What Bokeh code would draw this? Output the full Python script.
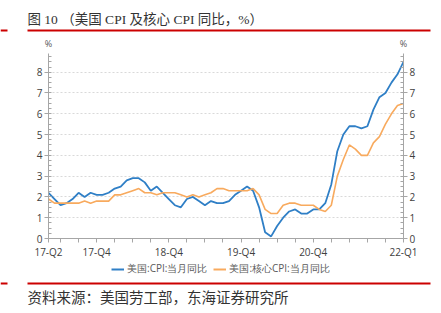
from bokeh.plotting import figure
from bokeh.layouts import column
from bokeh.models import (LinearAxis, FixedTicker, SingleIntervalTicker, Legend, LegendItem,
                          Range1d, ColumnDataSource)
from bokeh.core.properties import value
from bokeh.embed import file_html
from bokeh.resources import INLINE

# ---- data ----
months = [
    "2017-04", "2017-05", "2017-06", "2017-07", "2017-08", "2017-09", "2017-10", "2017-11", "2017-12",
    "2018-01", "2018-02", "2018-03", "2018-04", "2018-05", "2018-06", "2018-07", "2018-08", "2018-09",
    "2018-10", "2018-11", "2018-12",
    "2019-01", "2019-02", "2019-03", "2019-04", "2019-05", "2019-06", "2019-07", "2019-08", "2019-09",
    "2019-10", "2019-11", "2019-12",
    "2020-01", "2020-02", "2020-03", "2020-04", "2020-05", "2020-06", "2020-07", "2020-08", "2020-09",
    "2020-10", "2020-11", "2020-12",
    "2021-01", "2021-02", "2021-03", "2021-04", "2021-05", "2021-06", "2021-07", "2021-08", "2021-09",
    "2021-10", "2021-11", "2021-12",
    "2022-01", "2022-02", "2022-03",
]
cpi = [
    2.2, 1.9, 1.6, 1.7, 1.9, 2.2, 2.0, 2.2, 2.1,
    2.1, 2.2, 2.4, 2.5, 2.8, 2.9, 2.9, 2.7, 2.3, 2.5, 2.2, 1.9,
    1.6, 1.5, 1.9, 2.0, 1.8, 1.6, 1.8, 1.7, 1.7, 1.8, 2.1, 2.3,
    2.5, 2.3, 1.5, 0.3, 0.1, 0.6, 1.0, 1.3, 1.4, 1.2, 1.2, 1.4,
    1.4, 1.7, 2.6, 4.2, 5.0, 5.4, 5.4, 5.3, 5.4, 6.2, 6.8, 7.0,
    7.5, 7.9, 8.5,
]
core = [
    1.9, 1.7, 1.7, 1.7, 1.7, 1.7, 1.8, 1.7, 1.8,
    1.8, 1.8, 2.1, 2.1, 2.2, 2.3, 2.4, 2.2, 2.2, 2.1, 2.2, 2.2,
    2.2, 2.1, 2.0, 2.1, 2.0, 2.1, 2.2, 2.4, 2.4, 2.3, 2.3, 2.3,
    2.3, 2.4, 2.1, 1.4, 1.2, 1.2, 1.6, 1.7, 1.7, 1.6, 1.6, 1.6,
    1.4, 1.3, 1.6, 3.0, 3.8, 4.5, 4.3, 4.0, 4.0, 4.6, 4.9, 5.5,
    6.0, 6.4, 6.5,
]
tick_labels = {"2017-04": "17-Q2", "2017-12": "17-Q4", "2018-12": "18-Q4",
               "2019-12": "19-Q4", "2020-12": "20-Q4", "2022-03": "22-Q1"}
series_names = ["美国:CPI:当月同比", "美国:核心CPI:当月同比"]
title_text = "图 10   （美国 CPI 及核心 CPI 同比，%）"
source_text = "资料来源：美国劳工部，东海证券研究所"
unit_text = "%"

# ---- styles ----
BLUE = "#2f7fc6"
ORANGE = "#f8aa5e"
RED = "#cc0000"
AXIS = "#a6a6a6"
TXT = "#404040"
FONT = "Open Sans"
SERIF = "'Liberation Serif', 'Noto Sans CJK SC'"
W = 441
H1 = 53
H2 = 209
H3 = 313 - H1 - H2


def deco_fig(h):
    f = figure(width=W, height=h, output_backend="svg", toolbar_location=None,
               x_range=Range1d(0, W), y_range=Range1d(h, 0),
               x_axis_type=None, y_axis_type=None, min_border=0)
    f.outline_line_color = None
    f.background_fill_color = "white"
    f.border_fill_color = "white"
    f.frame_align = False
    return f


# ---- header ----
head = deco_fig(H1)
head.text(x=[27], y=[19], text=[title_text], text_font=value(SERIF), text_font_size="13.5px",
          text_color="#333333", text_baseline="middle", text_align="left")
head.quad(left=[27, 0], right=[430, 7], top=[29, 29], bottom=[31, 31],
          fill_color=RED, line_color=None)
head.text(x=[48, 403], y=[43, 43], text=[unit_text, unit_text], text_font=value(FONT),
          text_font_size="9px", text_color="#595959", text_baseline="middle", text_align="center")

# ---- main chart ----
idx = list(range(len(months)))
src = ColumnDataSource(dict(x=idx, cpi=cpi, core=core))

p = figure(width=W, height=H2, output_backend="svg", toolbar_location=None,
           x_range=Range1d(0, len(months) - 1), y_range=Range1d(0, 8.9),
           min_border_left=48, min_border_right=38, min_border_top=0, min_border_bottom=H2 - 185)
p.frame_align = False
p.outline_line_color = None
p.background_fill_color = "white"
p.border_fill_color = "white"

p.line("x", "cpi", source=src, line_color=BLUE, line_width=1.8)
p.line("x", "core", source=src, line_color=ORANGE, line_width=1.6)

qticks = [i for i, m in enumerate(months) if i == 0 or int(m[5:]) % 3 == 0]
overrides = {i: tick_labels.get(months[i], "") for i in qticks}
xa = p.xaxis[0]
xa.ticker = FixedTicker(ticks=qticks)
xa.major_label_overrides = overrides
xa.major_tick_out = 4
xa.major_tick_in = 0
xa.minor_tick_out = 0
xa.axis_line_color = AXIS
xa.major_tick_line_color = AXIS
xa.major_label_text_font = FONT
xa.major_label_text_font_size = "10px"
xa.major_label_text_color = TXT
xa.major_label_standoff = 2

yticker = SingleIntervalTicker(interval=1, num_minor_ticks=4)
ya = p.yaxis[0]
ya2 = LinearAxis()
p.add_layout(ya2, "right")
for ax in (ya, ya2):
    ax.ticker = yticker
    ax.major_tick_out = 4
    ax.major_tick_in = 0
    ax.minor_tick_out = 0
    ax.minor_tick_in = 3
    ax.axis_line_color = AXIS
    ax.major_tick_line_color = AXIS
    ax.minor_tick_line_color = AXIS
    ax.major_label_text_font = FONT
    ax.major_label_text_font_size = "10px"
    ax.major_label_text_color = TXT
    ax.major_label_standoff = 2

p.xgrid.visible = False
p.ygrid.ticker = yticker
p.ygrid.grid_line_color = "#d9d9d9"
p.ygrid.grid_line_dash = "2 2"

# ---- footer (legend, rule, source) ----
foot = deco_fig(H3)
k1 = foot.line(idx, cpi, line_color=BLUE, line_width=2, visible=False)
k2 = foot.line(idx, core, line_color=ORANGE, line_width=2, visible=False)
legend = Legend(items=[LegendItem(label=series_names[0], renderers=[k1]),
                       LegendItem(label=series_names[1], renderers=[k2])],
                orientation="horizontal", location=(111, H3 - 14),
                label_text_font=FONT, label_text_font_size="10px", label_text_color="#595959",
                glyph_width=13, glyph_height=12, label_height=12, label_standoff=3, spacing=6,
                padding=0, margin=0, border_line_color=None, background_fill_alpha=0,
                inactive_fill_alpha=0)
foot.add_layout(legend)
foot.quad(left=[27, 0], right=[430, 7], top=[20, 20], bottom=[22, 22], fill_color=RED, line_color=None)
foot.text(x=[27], y=[35], text=[source_text], text_font=value(SERIF), text_font_size="14.5px",
          text_color="#333333", text_baseline="middle", text_align="left")

layout = column(head, p, foot, spacing=0)
open("out.html", "w").write(file_html(layout, INLINE))
